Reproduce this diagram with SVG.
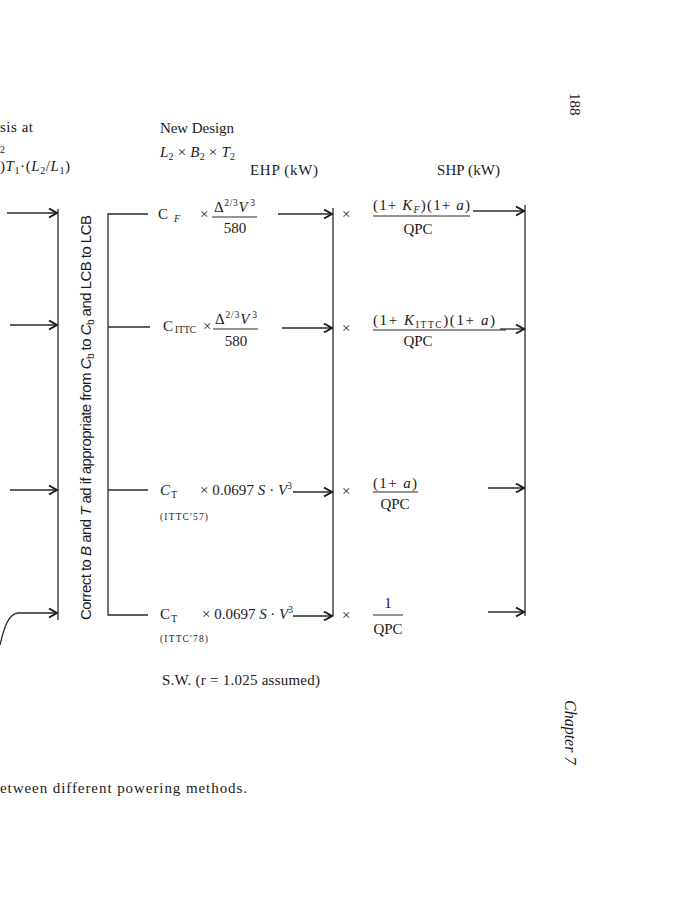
<svg xmlns="http://www.w3.org/2000/svg" width="680" height="900" viewBox="0 0 680 900">
<style>
text{font-family:"Liberation Serif","Times New Roman",serif;fill:#1a1a1a;}
.t{font-size:15px;}
.s{font-size:10px;}
.ss{font-size:9.5px;}
.i{font-style:italic;}
.sans{font-family:"Liberation Sans",Arial,sans-serif;font-size:15px;}
.ln{stroke:#2a2a2a;stroke-width:1.3;fill:none;}
.ar{stroke:#2a2a2a;stroke-width:1.3;fill:none;marker-end:url(#ah);}
.fr{stroke:#2a2a2a;stroke-width:1;}
</style>
<defs>
<marker id="ah" viewBox="-10 -6 12 12" refX="0" refY="0" markerWidth="12" markerHeight="12" markerUnits="userSpaceOnUse" orient="auto">
<path d="M-8,-4.5 L0,0 L-8,4.5" fill="none" stroke="#1a1a1a" stroke-width="2"/>
</marker>
</defs>
<rect width="680" height="900" fill="#fff"/>

<g id="page-header">
<text class="t" transform="translate(570,93) rotate(90)">188</text>
<text class="i" font-size="16" transform="translate(565,700) rotate(90)">Chapter 7</text>
</g>

<g id="basis-design">
<text class="t" x="0" y="132" textLength="33" lengthAdjust="spacing">sis at</text>
<text class="s" x="0" y="153">2</text>
<text class="t" x="0" y="171" textLength="70" lengthAdjust="spacing">)<tspan class="i">T</tspan><tspan class="s" dy="3">1</tspan><tspan dy="-3">·(</tspan><tspan class="i">L</tspan><tspan class="s" dy="3">2</tspan><tspan dy="-3">/</tspan><tspan class="i">L</tspan><tspan class="s" dy="3">1</tspan><tspan dy="-3">)</tspan></text>
</g>

<g id="new-design">
<text class="t" x="160" y="133" textLength="74" lengthAdjust="spacing">New Design</text>
<text class="t" x="160" y="157" textLength="75" lengthAdjust="spacing"><tspan class="i">L</tspan><tspan class="s" dy="3">2</tspan><tspan dy="-3"> × </tspan><tspan class="i">B</tspan><tspan class="s" dy="3">2</tspan><tspan dy="-3"> × </tspan><tspan class="i">T</tspan><tspan class="s" dy="3">2</tspan></text>
</g>

<g id="col-headers">
<text class="t" x="250" y="175" textLength="68" lengthAdjust="spacing">EHP (kW)</text>
<text class="t" x="437" y="175" textLength="63" lengthAdjust="spacing">SHP (kW)</text>
</g>

<g id="correction-note">
<text class="sans" transform="translate(91,620) rotate(-90)" textLength="405" lengthAdjust="spacing">Correct to <tspan class="i">B</tspan> and <tspan class="i">T</tspan> ad if appropriate from <tspan class="i">C</tspan><tspan font-size="10" dy="3">b</tspan><tspan dy="-3"> to </tspan><tspan class="i">C</tspan><tspan font-size="10" dy="3">b</tspan><tspan dy="-3"> and LCB to LCB</tspan></text>
</g>

<g id="row1-ehp">
<text class="t" x="158" y="219">C</text>
<text class="s i" x="174" y="222">F</text>
<text class="t" x="200" y="219">×</text>
<text class="t" x="214" y="212" textLength="41" lengthAdjust="spacing">Δ<tspan class="ss" dy="-6">2/3</tspan><tspan class="i" dy="6">V</tspan><tspan class="ss" dx="2" dy="-6">3</tspan></text>
<line class="fr" x1="212" y1="217" x2="257" y2="217"/>
<text class="t" x="235" y="233" text-anchor="middle">580</text>
<text class="t" x="342" y="219">×</text>
</g>

<g id="row1-shp">
<text class="t" x="373" y="210" textLength="97" lengthAdjust="spacing">(1+ <tspan class="i">K</tspan><tspan class="s i" dy="3">F</tspan><tspan dy="-3">)(1+ </tspan><tspan class="i">a</tspan>)</text>
<line class="fr" x1="373" y1="216" x2="470" y2="216"/>
<text class="t" x="418" y="234" text-anchor="middle">QPC</text>
</g>

<g id="row2-ehp">
<text class="t" x="163" y="331">C</text>
<text class="ss" x="175" y="333">ITTC</text>
<text class="t" x="203" y="331">×</text>
<text class="t" x="215" y="324" textLength="42" lengthAdjust="spacing">Δ<tspan class="ss" dy="-6">2/3</tspan><tspan class="i" dy="6">V</tspan><tspan class="ss" dx="2" dy="-6">3</tspan></text>
<line class="fr" x1="213" y1="329" x2="258" y2="329"/>
<text class="t" x="236" y="346" text-anchor="middle">580</text>
<text class="t" x="342" y="333">×</text>
</g>

<g id="row2-shp">
<text class="t" x="373" y="325" textLength="122" lengthAdjust="spacing">(1+ <tspan class="i">K</tspan><tspan class="ss" dy="3">ITTC</tspan><tspan dy="-3">)(1+ </tspan><tspan class="i">a</tspan>)</text>
<line class="fr" x1="373" y1="330" x2="506" y2="330"/>
<text class="t" x="418" y="346" text-anchor="middle">QPC</text>
</g>

<g id="row3-ehp">
<text class="t i" x="160" y="495">C</text>
<text class="s" x="171" y="498">T</text>
<text class="t" x="200" y="495" textLength="92" lengthAdjust="spacing">× 0.0697 <tspan class="i">S</tspan> · <tspan class="i">V</tspan><tspan class="ss" dy="-6">3</tspan></text>
<text class="ss" x="160" y="520" textLength="48" lengthAdjust="spacing">(ITTC'57)</text>
<text class="t" x="342" y="496">×</text>
</g>

<g id="row3-shp">
<text class="t" x="373" y="488" textLength="44" lengthAdjust="spacing">(1+ <tspan class="i">a</tspan>)</text>
<line class="fr" x1="373" y1="492" x2="418" y2="492"/>
<text class="t" x="395" y="509" text-anchor="middle">QPC</text>
</g>

<g id="row4-ehp">
<text class="t" x="160" y="619">C</text>
<text class="s" x="171" y="622">T</text>
<text class="t" x="202" y="619" textLength="91" lengthAdjust="spacing">× 0.0697 <tspan class="i">S</tspan> · <tspan class="i">V</tspan><tspan class="ss" dy="-6">3</tspan></text>
<text class="ss" x="160" y="642" textLength="48" lengthAdjust="spacing">(ITTC'78)</text>
<text class="t" x="342" y="620">×</text>
</g>

<g id="row4-shp">
<text class="t" x="388" y="608" text-anchor="middle">1</text>
<line class="fr" x1="373" y1="615" x2="403" y2="615"/>
<text class="t" x="388" y="634" text-anchor="middle">QPC</text>
</g>

<g id="notes">
<text class="t" x="162" y="685" textLength="158" lengthAdjust="spacing">S.W. (r = 1.025 assumed)</text>
<text x="0" y="793" font-size="15" textLength="247" lengthAdjust="spacing">etween different powering methods.</text>
</g>

<g id="connectors">
<line class="ar" x1="7" y1="213" x2="57" y2="213"/>
<line class="ar" x1="10" y1="325" x2="57" y2="325"/>
<line class="ar" x1="10" y1="490" x2="57" y2="490"/>
<path class="ar" d="M0,645 C4,628 8,614 18,613 L57,613"/>
<line class="ln" x1="58" y1="209" x2="58" y2="620"/>
<path class="ln" d="M148,214 L108,214 L108,615 L148,615"/>
<line class="ln" x1="108" y1="327" x2="150" y2="327"/>
<line class="ln" x1="108" y1="490" x2="148" y2="490"/>
<line class="ar" x1="278" y1="214" x2="332" y2="214"/>
<line class="ar" x1="282" y1="328" x2="332" y2="328"/>
<line class="ar" x1="293" y1="492" x2="332" y2="492"/>
<line class="ar" x1="293" y1="616" x2="332" y2="616"/>
<line class="ln" x1="333" y1="208" x2="333" y2="616"/>
<line class="ar" x1="473" y1="211" x2="524" y2="211"/>
<line class="ar" x1="500" y1="329" x2="524" y2="329"/>
<line class="ar" x1="488" y1="488" x2="524" y2="488"/>
<line class="ar" x1="488" y1="612" x2="524" y2="612"/>
<line class="ln" x1="525" y1="205" x2="525" y2="616"/>
</g>
</svg>
